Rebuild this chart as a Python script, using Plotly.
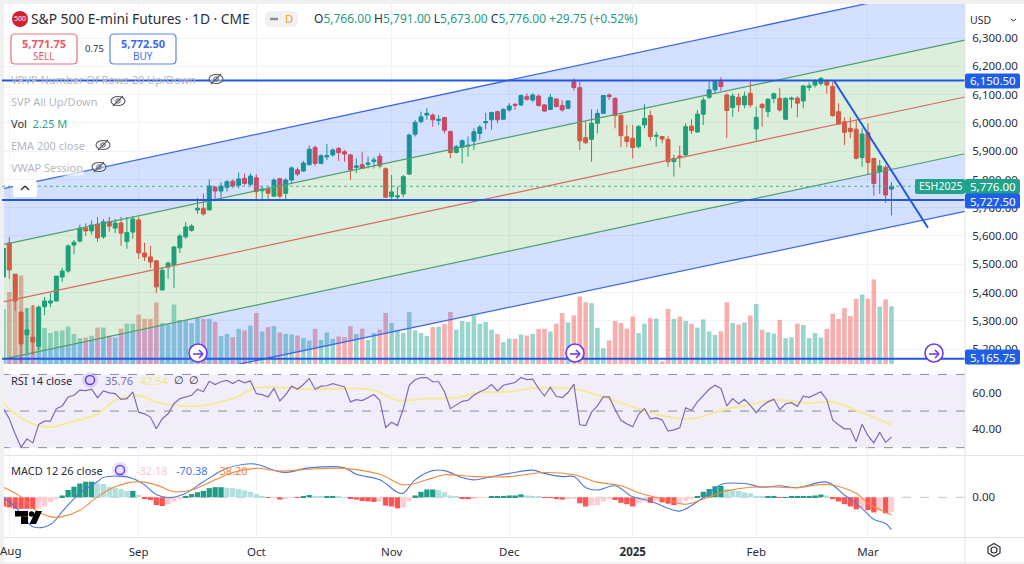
import plotly.graph_objects as go

# --- DATA ---
opens = [5455,5575,5465,5330,5250,5242,5210,5350,5363,5370,5455,5476,5568,5582,5628,5618,5642,5597,5650,5628,
         5646,5580,5614,5657,5540,5526,5512,5409,5490,5497,5558,5597,5620,5692,5698,5692,5773,5759,5772,5794,
         5780,5804,5783,5806,5760,5767,5741,5803,5751,5798,5834,5830,5852,5913,5857,5880,5887,5910,5898,5887,
         5843,5852,5854,5864,5882,5838,5739,5738,5749,5819,5960,6005,6028,6028,6009,6019,5970,5896,5914,5918,
         5936,5963,6001,6011,6040,6013,6046,6066,6064,6093,6081,6095,6064,6048,6085,6062,6052,6146,6125,5948,
         5942,5999,6034,6099,6087,6026,5951,5946,5916,5993,6026,5953,5952,5942,5863,5883,5887,5989,5968,6031,
         6091,6117,6146,6099,6055,6091,6064,6105,5979,6066,6040,6087,6087,6013,6084,6088,6078,6126,6134,6140,
         6150,6129,6040,6005,5981,5978,5878,5966,5874,5828,5843,5766]
highs = [5586,5596,5465,5335,5345,5356,5355,5384,5398,5458,5487,5570,5586,5640,5645,5655,5667,5660,5667,5660,
         5667,5667,5670,5667,5576,5565,5515,5490,5510,5565,5608,5650,5642,5735,5750,5800,5777,5790,5798,5800,
         5825,5821,5821,5818,5775,5775,5804,5806,5804,5846,5842,5866,5920,5920,5889,5926,5910,5914,5905,5890,
         5875,5898,5881,5878,5893,5843,5816,5775,5816,5963,6011,6040,6052,6034,6028,6022,5973,5922,5942,5952,
         5981,5993,6036,6040,6044,6052,6070,6070,6101,6105,6105,6101,6067,6103,6087,6081,6081,6158,6146,6005,
         6048,6048,6099,6105,6091,6034,5993,5993,5993,6066,6044,5969,5954,5954,5887,5919,5999,6013,6046,6091,
         6146,6150,6162,6105,6105,6105,6111,6146,6058,6070,6087,6107,6123,6091,6093,6095,6134,6143,6155,6162,
         6155,6146,6070,6020,6020,6011,5981,5999,5878,5869,5851,5791]
lows = [5455,5448,5335,5150,5185,5180,5195,5320,5348,5370,5437,5470,5536,5577,5600,5605,5579,5590,5615,5610,
        5565,5555,5590,5519,5511,5486,5398,5409,5448,5416,5540,5590,5615,5678,5672,5692,5723,5735,5757,5769,
        5769,5780,5777,5731,5731,5731,5739,5733,5731,5784,5812,5827,5851,5848,5854,5869,5881,5866,5863,5798,
        5822,5839,5839,5839,5839,5734,5731,5731,5737,5816,5952,5999,6011,5987,5993,5963,5875,5892,5857,5881,
        5904,5940,5977,5977,5999,6011,6040,6046,6060,6079,6075,6058,6040,6046,6055,6040,6048,6114,5904,5926,
        5863,5963,6032,6081,5981,5914,5914,5875,5910,5981,5937,5916,5928,5845,5810,5843,5881,5961,5966,5993,
        6084,6105,6114,5946,6022,6040,6052,6055,5937,5987,6020,6070,6040,6011,6052,6020,6052,6114,6126,6131,
        6103,6022,5993,5922,5946,5871,5845,5816,5742,5749,5718,5673]
closes = [5556,5480,5370,5218,5268,5225,5348,5370,5370,5458,5476,5565,5578,5628,5618,5639,5593,5650,5635,5646,
          5610,5612,5660,5540,5526,5508,5420,5479,5504,5561,5600,5632,5635,5698,5678,5777,5759,5777,5792,5777,
          5802,5786,5812,5757,5766,5751,5798,5741,5798,5841,5819,5858,5907,5857,5884,5884,5904,5895,5890,5834,
          5848,5839,5858,5869,5848,5737,5756,5742,5810,5957,6002,6022,6034,6011,6013,5974,5895,5916,5937,5921,
          5969,5985,6005,6037,6011,6048,6060,6062,6097,6084,6099,6062,6042,6091,6058,6046,6078,6125,5937,5930,
          5999,6034,6097,6093,6026,5955,5934,5913,5987,6016,5952,5956,5943,5863,5874,5878,5987,5973,6031,6081,
          6117,6146,6129,6044,6095,6064,6095,6064,6020,6054,6084,6103,6046,6087,6088,6070,6131,6131,6149,6158,
          6134,6026,5996,5967,5969,5875,5961,5860,5786,5848,5745,5776]
volumes = [2.14,2.81,3.49,3.45,2.18,2.28,2.18,1.41,1.21,1.28,1.31,1.46,1.17,1.01,1.03,1.10,1.42,1.42,1.10,1.03,
           1.38,1.57,1.57,1.93,1.76,1.76,2.40,1.60,1.54,2.32,1.72,1.70,1.60,1.79,1.76,1.76,1.64,1.09,1.17,1.05,
           1.37,1.31,1.50,1.99,1.27,1.44,1.48,1.23,1.17,1.15,1.11,1.01,0.92,1.37,0.94,1.23,0.98,1.07,1.05,1.48,
           1.17,1.38,0.94,1.21,1.34,1.99,1.60,1.33,1.21,2.03,1.31,1.21,1.09,1.44,1.46,1.57,2.03,1.34,1.68,1.64,
           1.89,1.57,1.64,1.34,1.17,0.85,0.99,0.98,1.15,1.11,1.17,1.37,1.37,1.27,1.57,1.99,1.62,1.89,2.63,2.41,
           2.37,1.41,0.62,0.92,1.68,1.60,1.38,1.85,1.21,1.57,1.79,1.77,0.10,2.15,1.76,1.85,1.68,1.57,1.42,1.74,
           1.27,1.14,1.27,2.41,1.60,1.54,1.62,1.89,2.34,1.34,1.24,1.19,1.72,1.01,1.04,1.57,1.52,1.01,1.21,1.03,
           1.37,1.96,1.76,2.18,1.87,2.54,2.71,2.55,3.30,2.24,2.52,2.25]

rsi = [51.3,45.8,37.5,30.2,34.8,32.6,42.7,44.5,44.5,51.3,52.8,57.7,58.6,61.4,61.2,61.9,57.3,61,59.9,59.5,
       56.4,56.8,60.5,49.4,48.5,46.7,40.3,45.8,48.5,54,56.8,57.7,58.6,61.9,60.5,66.3,64.5,66,66.7,65,
       66.9,65.4,66.5,59.5,59,57.7,62.3,55.5,59,63.6,61.9,64.5,67.8,61.9,63.6,63.8,65,64.1,63.2,55,
       56.2,55.7,57.3,59,55.9,41,43.9,42.1,51.3,64.1,67.1,68.2,68.3,66,66,60.5,51.3,53.5,55.3,55.9,
       58.6,60.5,61.9,64.5,61,64.1,65,65.6,68.3,67.2,67.4,62.3,58.2,63,58.1,57.3,60.1,64.7,42.5,42.1,
       49.4,52.8,57.7,57.7,50.9,44.9,43,41.4,48.2,51.3,45.8,46.3,45.2,39,39.7,40.8,51.8,50.4,55,58.6,
       61.9,64.1,62.3,52.8,56.8,54,56.4,53.1,49.1,52.8,55,56.4,50.7,54,54.6,52.6,58.1,57.5,59,60.5,
       56.2,45.2,42.5,40.3,40.3,33.3,42.8,36.6,32.6,38.4,32.9,35.76]
rsi_ma_bars = [0,2,5,8,11,16,19,23,26,30,34,39,43,47,53,59,63,67,72,77,81,86,90,94,97,102,108,111,117,123,127,131,137,141,145,151]
rsi_ma = [54.6,48.5,43,41.2,43.6,48.5,55.9,58.3,55,52.8,53.1,56.8,62.7,62.8,61.9,62.3,61.4,55.9,56.8,57.2,60.1,60.5,
          62.6,62.6,62.3,57.7,51.3,48.2,45.8,51.3,53.5,56.2,54.4,55,50.4,42.54]

macd_bars = [0,2,5,8,10,13,16,17,20,22,24,26,28,31,34,38,41,43,46,48,52,58,60,64,67,68,70,73,75,78,80,83,86,
             90,92,95,97,99,101,104,107,110,113,115,117,120,122,126,129,132,135,140,143,146,148,150,151]
macd_line = [-1,-20,-64,-59,-31,9,34,43,46,41,27,6,-1,9,34,63,72,72,59,54,64,64,50,38,11,9,38,58,58,43,38,45,52,
             59,52,45,45,21,16,25,1,-8,-24,-30,-18,9,28,30,22,25,21,33,5,-24,-48,-57,-70.38]
signal_bars = [0,3,5,8,10,13,16,19,23,26,29,32,36,39,43,47,52,58,64,68,72,75,80,86,92,97,101,105,108,113,116,120,123,
               127,132,135,140,145,147,151]
signal_line = [22,1,-24,-42,-42,-28,1,23,34,27,12,16,38,54,63,57,61,63,50,27,38,49,45,45,54,49,33,25,10,-6,-15,1,14,
               22,22,21,28,9,-13,-38.2]
macd_hist = [-20,-22,-25,-25,-25,-25,-24,-20,-11,-4,4,16,23,30,34,34,30,29,23,20,
             18,14,14,5,-3,-6,-17,-19,-15,-9,-4,3,7,11,14,20,22,22,21,20,
             18,15,12,7,2,-1.5,-1,-5,-2,-1,-1,2,5,2,1,1,3,1,0.5,-2,
             -5,-8,-9,-10,-9,-18,-20,-24,-22,-9,4,12,17,17,16,11,4,1,-2,-4,
             -2,-1,-0.5,1,1,3,4,4,6.5,4,3,1,-1,-1,-4,-5,-3,-2,-13,-20,
             -18,-17,-9,-4,-6,-12,-15,-20,-13,-9,-12,-8,-11,-14,-17,-13,-8,-4,2,12,
             18,24,25,18,15,14,11,9,2,1,1,3,-1,0.5,1,1,2,3,4,6,
             4,-4,-9,-15,-20,-26,-24,-28,-33,-29,-35,-32.18]

# trend channel ends, left and right edge of the pane
channel_bars = [-0.24, 163.5]
channel_outer_top = [5767, 6497]
channel_inner_top = [5568.5, 6293]
channel_mid = [5366, 6092]
channel_inner_bot = [5163, 5891]
channel_outer_bot = [4970, 5687]
hlines = [6150.5, 5727.5, 5165.75]
last_price = 5776
down_bars = [141.2, 157.2]
down_prices = [6150.5, 5629]

price_ticks = [5300, 5400, 5500, 5600, 5700, 5800, 5900, 6000, 6100, 6200, 6300, 5200]
month_bars = [1, 23, 43, 66, 86, 107, 128, 147]
month_labels = ["", "Sep", "Oct", "Nov", "Dec", "<b>2025</b>", "Feb", "Mar"]

# --- STYLE ---
W, H = 1024, 564
FONT = "Noto Sans"
INK = "#2a2e39"
MUTED = "#b4b7be"
UP = "#139c84"
DOWN = "#f2453f"
BLUE = "#2257e6"
PURPLE = "#6a3de8"
TEAL_TAG = "#1fa38c"
GRID = "#f1f3f8"
FRAME = "#f0f0f0"


def fx(px):
    return px / W


def fy(py):
    return 1 - py / H


bars = list(range(len(closes)))
vol_colors = ["rgba(38,166,154,0.47)" if c >= o else "rgba(239,83,80,0.47)" for o, c in zip(opens, closes)]

hist_colors = []
prev = 0
for v in macd_hist:
    if v >= 0:
        hist_colors.append("#1f9c86" if v >= prev else "#b2dfdb")
    else:
        hist_colors.append("#ff5252" if v <= prev else "#ffcdd2")
    prev = v

fig = go.Figure()

# volume sits on the base price-pane axis so it ends up under everything else
fig.add_trace(go.Bar(x=bars, y=volumes, width=0.78, marker=dict(color=vol_colors, line_width=0), xaxis="x", yaxis="y"))

fig.add_trace(go.Candlestick(
    x=bars, open=opens, high=highs, low=lows, close=closes, xaxis="x", yaxis="y4", whiskerwidth=0,
    increasing=dict(line=dict(color=UP, width=1), fillcolor=UP),
    decreasing=dict(line=dict(color=DOWN, width=1), fillcolor=DOWN),
))


def channel(values, color, width, fill=None):
    fig.add_trace(go.Scatter(
        x=channel_bars, y=values, mode="lines", xaxis="x", yaxis="y4",
        line=dict(color=color, width=width),
        fill="tonexty" if fill else None, fillcolor=fill,
    ))


channel(channel_outer_bot, "#3f68e8", 1.3)
channel(channel_inner_bot, "#4f9f6c", 1.2, "rgba(41,98,255,0.2)")
channel(channel_inner_top, "#4f9f6c", 1.2, "rgba(76,175,80,0.2)")
channel(channel_outer_top, "#3f68e8", 1.3, "rgba(41,98,255,0.2)")
channel(channel_mid, "#d9695f", 1.2)

fig.add_trace(go.Scatter(x=down_bars, y=down_prices, mode="lines", xaxis="x", yaxis="y4",
                         line=dict(color=BLUE, width=2)))

# RSI pane
fig.add_trace(go.Scatter(x=rsi_ma_bars, y=rsi_ma, mode="lines", xaxis="x", yaxis="y2",
                         line=dict(color="#f3ea9a", width=2, shape="spline")))
fig.add_trace(go.Scatter(x=bars, y=rsi, mode="lines", xaxis="x", yaxis="y2", line=dict(color="#7e6bb8", width=1.2)))

# MACD pane
fig.add_trace(go.Bar(x=bars, y=macd_hist, width=0.9, marker=dict(color=hist_colors, line_width=0), xaxis="x", yaxis="y3"))
fig.add_trace(go.Scatter(x=macd_bars, y=macd_line, mode="lines", xaxis="x", yaxis="y3",
                         line=dict(color="#4a78e0", width=1.1, shape="spline")))
fig.add_trace(go.Scatter(x=signal_bars, y=signal_line, mode="lines", xaxis="x", yaxis="y3",
                         line=dict(color="#f0883e", width=1.1, shape="spline")))

# --- SHAPES ---
shapes = []
notes = []


def rect(x0, y0, x1, y1, fill, line=None, layer="above", r=0, lw=1):
    if r:
        path = (f"M{fx(x0 + r)},{fy(y0)} L{fx(x1 - r)},{fy(y0)} Q{fx(x1)},{fy(y0)} {fx(x1)},{fy(y0 + r)} "
                f"L{fx(x1)},{fy(y1 - r)} Q{fx(x1)},{fy(y1)} {fx(x1 - r)},{fy(y1)} "
                f"L{fx(x0 + r)},{fy(y1)} Q{fx(x0)},{fy(y1)} {fx(x0)},{fy(y1 - r)} "
                f"L{fx(x0)},{fy(y0 + r)} Q{fx(x0)},{fy(y0)} {fx(x0 + r)},{fy(y0)} Z")
        shapes.append(dict(type="path", xref="paper", yref="paper", path=path, fillcolor=fill, layer=layer,
                           line=dict(color=line or "rgba(0,0,0,0)", width=lw)))
    else:
        shapes.append(dict(type="rect", xref="paper", yref="paper", x0=fx(x0), x1=fx(x1), y0=fy(y0), y1=fy(y1),
                           fillcolor=fill, layer=layer, line=dict(color=line or "rgba(0,0,0,0)", width=lw)))


def seg(x0, y0, x1, y1, color, lw=1):
    shapes.append(dict(type="line", xref="paper", yref="paper", x0=fx(x0), x1=fx(x1), y0=fy(y0), y1=fy(y1),
                       line=dict(color=color, width=lw)))


def dot(cx, cy, r, fill, line=None, lw=1, ry=None):
    ry = ry or r
    shapes.append(dict(type="circle", xref="paper", yref="paper", x0=fx(cx - r), x1=fx(cx + r),
                       y0=fy(cy - ry), y1=fy(cy + ry), fillcolor=fill,
                       line=dict(color=line or "rgba(0,0,0,0)", width=lw)))


def text(x, y, s, color=INK, size=11, anchor="left", bg=None):
    # left-anchored annotations sit a little in from their x
    nudge = 2 if anchor == "left" else 0
    notes.append(dict(xref="paper", yref="paper", x=fx(x - nudge), y=fy(y), text=s, showarrow=False, xanchor=anchor,
                      yanchor="middle", font=dict(family=FONT, size=size, color=color), bgcolor=bg,
                      borderpad=0))


def eye(cx, cy):
    dot(cx, cy, 7, "rgba(255,255,255,0.4)", "#55585f", 1.1, ry=4.5)
    dot(cx, cy, 2.2, "rgba(0,0,0,0)", "#55585f", 1)
    seg(cx - 5, cy + 5, cx + 5, cy - 5, "#55585f", 1.1)


def jump(cx, cy):
    dot(cx, cy, 9, "white", PURPLE, 1.6)
    seg(cx - 5, cy + 1, cx + 4, cy + 1, PURPLE, 1.6)
    seg(cx + 1, cy - 3, cx + 5, cy + 1, PURPLE, 1.6)
    seg(cx + 1, cy + 5, cx + 5, cy + 1, PURPLE, 1.6)


def refresh(cx, cy):
    dot(cx, cy, 8, "rgba(106,61,232,0.15)")
    dot(cx, cy, 4.5, "rgba(0,0,0,0)", PURPLE, 1.5)


# page frame: the pale strip on the top and left edges cuts the panes off
rect(0, 0, W, 4, FRAME)
rect(0, 0, 4, H, FRAME)
rect(0, 562, W, H, FRAME)

# price-scaled lines
for level in hlines:
    shapes.append(dict(type="line", xref="x domain", yref="y4", x0=0, x1=1, y0=level, y1=level,
                       line=dict(color=BLUE, width=2)))
shapes.append(dict(type="line", xref="x domain", yref="y4", x0=0, x1=1, y0=last_price, y1=last_price,
                   line=dict(color="#4fae93", width=1, dash="dot")))

# RSI band
shapes.append(dict(type="rect", xref="x domain", yref="y2", x0=0, x1=1, y0=30, y1=70, layer="below",
                   fillcolor="rgba(126,87,194,0.1)", line_width=0))
for level in (70, 50, 30):
    shapes.append(dict(type="line", xref="x domain", yref="y2", x0=0, x1=1, y0=level, y1=level, layer="below",
                       line=dict(color="#8a8d96", width=1, dash="dash")))
shapes.append(dict(type="line", xref="x domain", yref="y3", x0=0, x1=1, y0=0, y1=0, layer="below",
                   line=dict(color="#c4c6cc", width=1, dash="dash")))

# pane separators
seg(4, 455.5, W, 455.5, "#e0e3eb")
seg(4, 537.5, W, 537.5, "#e0e3eb")
seg(965, 4, 965, 562, "#e0e3eb")

# header
dot(20, 19, 8, "#d3202f")
text(20, 19, "500", "white", 7, "center")
text(32, 19, "S&amp;P 500 E-mini Futures · 1D · CME", INK, 13.8)
rect(265, 11, 298, 27, "#f0f1f3", r=6)
seg(270, 19, 278, 19, "#8a8d96", 2.5)
text(289, 19, "D", "#f59a23", 11.5, "center")
g = "#1f9c86"
text(315, 19,
     f'O<span style="color:{g}">5,766.00</span> H<span style="color:{g}">5,791.00</span> '
     f'L<span style="color:{g}">5,673.00</span> C<span style="color:{g}">5,776.00 +29.75 (+0.52%)</span>',
     INK, 12)

# sell / buy
rect(11, 34, 77, 64, "white", "#ee6e7c", r=4, lw=1.2)
text(44, 43.5, "<b>5,771.75</b>", "#ee5566", 11, "center")
text(44, 56, "SELL", "#ee5566", 10, "center")
text(94, 49, "0.75", INK, 9.5, "center")
rect(110, 34, 176, 64, "white", "#5a82ea", r=4, lw=1.2)
text(143, 43.5, "<b>5,772.50</b>", "#3f68e8", 11, "center")
text(143, 56, "BUY", "#3f68e8", 10, "center")

# legend rows
text(12, 79, "VRVP Number Of Rows 20 Up/Down", MUTED, 11)
eye(216, 79)
text(12, 101, "SVP All Up/Down", MUTED, 11)
eye(118, 101)
text(12, 123, f'Vol  <span style="color:#2aa58f">2.25 M</span>', INK, 11)
text(12, 145, "EMA 200 close", MUTED, 11)
eye(103, 145)
text(12, 167, "VWAP Session", MUTED, 11, bg="rgba(255,255,255,0.7)")
eye(99, 167)
rect(13, 181, 37, 197, "white", r=2)
seg(21, 190, 25, 186, INK, 1.4)
seg(25, 186, 29, 190, INK, 1.4)

jump(198, 353)
jump(575, 353)
jump(934, 353)

# RSI / MACD legends
text(12, 380, "RSI 14 close", INK, 11)
refresh(90, 380)
text(106, 380, "35.76", "#7e6bb8", 11)
text(141, 380, "42.54", "#f0e878", 11)
text(175, 380, "∅  ∅", INK, 10.5)
text(12, 470, "MACD 12 26 close", INK, 11)
refresh(120, 470)
text(137, 470, "-32.18", "#f9c9ce", 11)
text(177, 470, "-70.38", "#4a78e0", 11)
text(217, 470, "-38.20", "#f0883e", 11)

# tradingview logo
rect(15, 511, 28, 516.5, "black")
rect(21, 516.5, 28, 524, "black")
dot(31.5, 514, 2.7, "black")
shapes.append(dict(type="path", xref="paper", yref="paper", line_width=0, fillcolor="black",
                   path=f"M{fx(35.5)},{fy(511)} L{fx(42)},{fy(511)} L{fx(36)},{fy(524)} L{fx(29.5)},{fy(524)} Z"))

# month label that plotly drops at the pane edge
text(11, 550.5, "Aug", INK, 11.5, "center")

# price tags
rect(965, 73.5, 1020, 88.5, "#1f5fe8", r=2)
text(992.5, 81, "6,150.50", "white", 11.5, "center")
rect(915, 179, 965, 194, TEAL_TAG, r=2)
text(940, 186.5, "ESH2025", "white", 10.5, "center")
rect(965, 179, 1020, 194, TEAL_TAG, r=2)
text(992.5, 186.5, "5,776.00", "white", 11.5, "center")
rect(965, 193.5, 1020, 208.5, "#1f5fe8", r=2)
text(992.5, 201, "5,727.50", "white", 11.5, "center")
rect(965, 349.5, 1020, 364.5, "#1f5fe8", r=2)
text(992.5, 357, "5,165.75", "white", 11.5, "center")

# currency box and settings
text(971, 20, "USD", INK, 10.5)
seg(1011, 19, 1013.5, 21, INK, 1)
seg(1013.5, 21, 1016, 19, INK, 1)
dot(994, 550, 3, "rgba(0,0,0,0)", INK, 1.2)
shapes.append(dict(type="path", xref="paper", yref="paper", line=dict(color=INK, width=1.2),
                   path=f"M{fx(994)},{fy(543.5)} L{fx(1000)},{fy(547)} L{fx(1000)},{fy(553)} L{fx(994)},{fy(556.5)} "
                        f"L{fx(988)},{fy(553)} L{fx(988)},{fy(547)} Z"))

# --- LAYOUT ---
axis_font = dict(family=FONT, size=11.5, color=INK)
side_axis = dict(side="right", anchor="x", tickformat=",.2f", tickfont=axis_font, ticks="outside", ticklen=4,
                 tickcolor="rgba(0,0,0,0)", zeroline=False, gridcolor=GRID)

fig.update_layout(
    width=W, height=H, autosize=False,
    margin=dict(l=0, r=0, t=0, b=0),
    paper_bgcolor="white", plot_bgcolor="rgba(0,0,0,0)",
    showlegend=False, barmode="overlay", boxgroupgap=0.05,
    font=dict(family=FONT),
    shapes=shapes, annotations=notes,
    xaxis=dict(domain=[fx(2), fx(965)], range=[-0.24, 163.5], anchor="y3", rangeslider=dict(visible=False),
               tickmode="array", tickvals=month_bars, ticktext=month_labels, tickfont=dict(family=FONT, size=11.5, color=INK),
               showgrid=True, gridcolor=GRID, ticks="outside", ticklen=4, tickcolor="rgba(0,0,0,0)", zeroline=False),
    yaxis=dict(domain=[fy(364), fy(4)], range=[0, 14.04], showticklabels=False, showgrid=False, zeroline=False),
    yaxis4=dict(side_axis, domain=[fy(364), fy(4)], range=[5147, 6421], overlaying="y",
                tickmode="array", tickvals=price_ticks),
    yaxis2=dict(side_axis, domain=[fy(455), fy(366)], range=[26, 74.6], tickmode="array", tickvals=[40, 60]),
    yaxis3=dict(side_axis, domain=[fy(537), fy(456)], range=[-86.3, 89.8], tickmode="array", tickvals=[0], showgrid=False),
)

fig.write_html("out.html", post_script="document.body.style.margin='0';", config=dict(displayModeBar=False))
